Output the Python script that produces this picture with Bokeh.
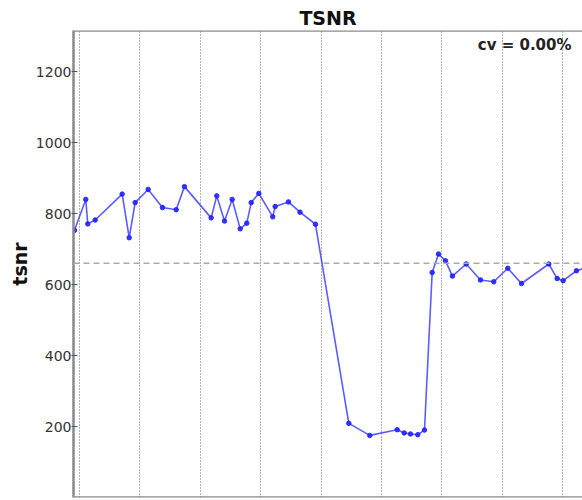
from bokeh.plotting import figure
from bokeh.models import Span, Label, FixedTicker, Range1d
from bokeh.embed import file_html
from bokeh.resources import INLINE

# data (x in acquisition units, one unit per vertical grid line)
run_x = [-0.083, 0.104, 0.137, 0.260, 0.707, 0.823, 0.922, 1.137, 1.374, 1.601,
         1.738, 2.180, 2.273, 2.401, 2.528, 2.661, 2.770, 2.843, 2.969, 3.200,
         3.240, 3.460, 3.651, 3.907, 4.459, 4.806, 5.260, 5.376, 5.480, 5.601,
         5.712, 5.839, 5.944, 6.060, 6.175, 6.402, 6.639, 6.859, 7.091, 7.318,
         7.770, 7.909, 8.008, 8.228, 8.493]
tsnr = [753, 840, 771, 782, 855, 732, 831, 868, 817, 811,
        876, 788, 850, 779, 840, 757, 773, 831, 857, 791,
        820, 833, 804, 770, 209, 175, 191, 182, 179, 177,
        190, 634, 686, 667, 624, 658, 613, 608, 646, 603,
        658, 617, 611, 639, 655]
grid_x = [0, 1, 2, 3, 4, 5, 6, 7, 8]
y_ticks = [200, 400, 600, 800, 1000, 1200]
mean_line = 660
cv_text = "cv = 0.00%"
title_text = "TSNR"
y_label = "tsnr"

FONT = "DejaVu Sans"

p = figure(width=582, height=500, output_backend="svg", toolbar_location=None,
           x_range=Range1d(-0.099, 8.328), y_range=Range1d(0, 1316),
           min_border_left=73, min_border_right=0, min_border_top=30,
           min_border_bottom=3, title=title_text)
p.outline_line_color = None
p.background_fill_color = "white"
p.border_fill_color = "white"

p.title.align = "center"
p.title.offset = 4
p.title.text_font = FONT
p.title.text_font_size = "19px"
p.title.text_font_style = "bold"
p.title.text_color = "#111111"
p.title.standoff = 4

p.xaxis.visible = False
p.xgrid.ticker = FixedTicker(ticks=grid_x)
p.xgrid.grid_line_color = "#666666"
p.xgrid.grid_line_dash = "1 2"
p.xgrid.grid_line_width = 1
p.ygrid.grid_line_color = None

ax = p.yaxis[0]
ax.ticker = FixedTicker(ticks=y_ticks)
ax.axis_line_color = "#8a8a8a"
ax.axis_line_width = 2.5
ax.major_tick_line_color = "#555555"
ax.major_tick_out = 2
ax.major_tick_in = 4
ax.minor_tick_line_color = None
ax.major_label_text_font = FONT
ax.major_label_text_font_size = "14px"
ax.major_label_text_color = "#333333"
ax.major_label_standoff = 0
ax.axis_label = y_label
ax.axis_label_text_font = FONT
ax.axis_label_text_font_size = "19px"
ax.axis_label_text_font_style = "bold"
ax.axis_label_text_color = "#111111"
ax.axis_label_standoff = 2

# frame top / bottom borders
p.add_layout(Span(location=1316, dimension="width", line_color="#8a8a8a", line_width=2.5))
p.add_layout(Span(location=0, dimension="width", line_color="#8a8a8a", line_width=2.5))

# mean dashed line
p.add_layout(Span(location=mean_line, dimension="width", line_color="#aaaaaa",
                  line_width=1.5, line_dash="6 4"))

p.line(run_x, tsnr, line_color="#3333ff", line_width=1.6, line_alpha=0.8)
p.scatter(run_x, tsnr, size=4.5, fill_color="#2222ff", line_color="#2222ff", alpha=0.9)

p.add_layout(Label(x=8.146, y=1276, text=cv_text, text_align="right",
                   text_baseline="middle", text_font=FONT, text_font_size="15px",
                   text_font_style="bold", text_color="#222222"))

open("out.html", "w").write(file_html(p, INLINE))
